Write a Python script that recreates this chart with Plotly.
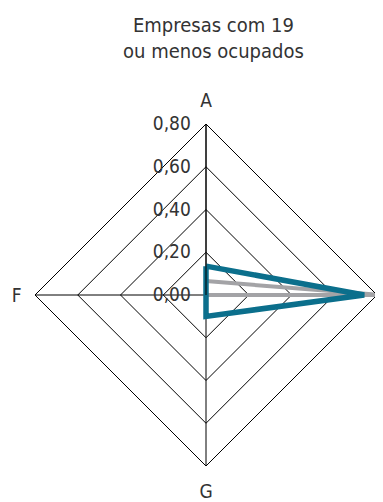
import plotly.graph_objects as go

# axis categories (clockwise from top); the right-hand label is not shown in the source
categories = ["A", " ", "G", "F"]
teal_values = [0.135, 0.74, 0.10, 0.0]
gray_values = [0.065, 0.82, 0.0, 0.0]
radial_ticks = [0.0, 0.2, 0.4, 0.6, 0.8]

font_family = "DejaVu Sans Condensed, Roboto, sans-serif"
text_color = "#333333"


def closed(values):
    return values + values[:1]


fig = go.Figure()

fig.add_trace(go.Scatterpolar(
    r=closed(gray_values),
    theta=closed(categories),
    mode="lines",
    line=dict(color="#a3a3a6", width=4),
    showlegend=False,
    cliponaxis=False,
))

fig.add_trace(go.Scatterpolar(
    r=closed(teal_values),
    theta=closed(categories),
    mode="lines",
    line=dict(color="#0b6f8c", width=5.5),
    showlegend=False,
    cliponaxis=False,
))

# title as an annotation so both lines sit where they should
fig.add_annotation(
    text="Empresas com 19<br>ou menos ocupados",
    x=205 / 383, xref="paper", xanchor="center",
    y=1 - 38 / 502, yref="paper", yanchor="middle",
    yshift=8,
    showarrow=False,
    font=dict(family=font_family, size=20, color=text_color),
)

fig.update_layout(
    width=383,
    height=502,
    margin=dict(l=0, r=0, t=0, b=0),
    paper_bgcolor="white",
    plot_bgcolor="white",
    separators=",.",
    font=dict(family=font_family, size=19, color=text_color),
    polar=dict(
        domain=dict(x=[27 / 383, 369 / 383], y=[44 / 502, 386 / 502]),
        bgcolor="white",
        gridshape="linear",
        radialaxis=dict(
            range=[0, 0.8],
            tickvals=radial_ticks,
            tickformat=".2f",
            angle=90,
            tickangle=90,
            side="counterclockwise",
            showline=True,
            linecolor="black",
            linewidth=1,
            gridcolor="black",
            gridwidth=1,
            ticks="outside",
            ticklen=8,
            tickcolor="rgba(0,0,0,0)",
            tickfont=dict(family=font_family, size=19, color=text_color),
        ),
        angularaxis=dict(
            rotation=90,
            direction="clockwise",
            showline=True,
            linecolor="black",
            linewidth=1,
            gridcolor="black",
            gridwidth=1,
            ticks="outside",
            ticklen=9,
            tickcolor="rgba(0,0,0,0)",
            tickfont=dict(family=font_family, size=19, color=text_color),
        ),
    ),
)

fig.write_html("out.html")
